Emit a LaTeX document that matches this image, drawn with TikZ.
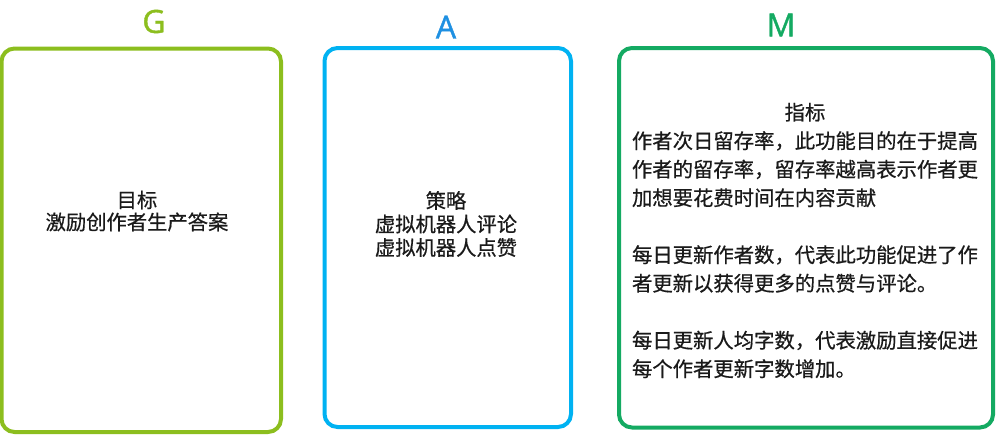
\documentclass[tikz,border=0pt]{standalone}
\usepackage{fontspec}
\setmainfont{Open Sans}
\newfontfamily\letterfont[FakeBold=1.2]{Open Sans}
\newfontfamily\cjk[FakeBold=0.6]{Noto Sans CJK SC}
\definecolor{ggreen}{HTML}{8CBE1E}
\definecolor{ablue}{HTML}{00B2F2}
\definecolor{aletter}{HTML}{1E90E2}
\definecolor{mgreen}{HTML}{14AA62}
\definecolor{txt}{HTML}{1A1A1A}
\begin{document}
\begin{tikzpicture}[x=1pt,y=-1pt,
  box/.style={draw, line width=4pt, rounded corners=13pt, inner sep=0pt, fill=white},
  letter/.style={font=\letterfont\fontsize{32}{32}\selectfont, inner sep=0pt},
  body/.style={text=txt, inner sep=0pt, font=\cjk\fontsize{20.3}{22}\selectfont, align=center}
]
\useasboundingbox[fill=white] (0,0) rectangle (998,437);
% boxes
\node[box, draw=ggreen, minimum width=279.5pt, minimum height=383.5pt] (gbox) at (141.25,240.25) {};
\node[box, draw=ablue, minimum width=246.5pt, minimum height=379pt] (abox) at (447.75,237.5) {};
\node[box, draw=mgreen, minimum width=374pt, minimum height=379.5pt] (mbox) at (806,237.75) {};
% letters
\node[letter, text=ggreen] (gl) at (154,21.5) {G};
\node[letter, text=aletter] (al) at (446,27) {A};
\node[letter, text=mgreen] (ml) at (781,25) {M};
% texts
\node[body] (gtext) at (137,211) {目标\\激励创作者生产答案};
\node[body, font=\cjk\fontsize{20.3}{23.5}\selectfont] (atext) at (446,224) {策略\\虚拟机器人评论\\虚拟机器人点赞};
\node[body, font=\cjk\fontsize{20.35}{28.5}\selectfont, text width=346pt, align=left] (mtext) at (805,240.5) {%
\makebox[\linewidth][c]{指标}\\
作者次日留存率，此功能目的在于提高\\
作者的留存率，留存率越高表示作者更\\
加想要花费时间在内容贡献\\[28.5pt]
每日更新作者数，代表此功能促进了作\\
者更新以获得更多的点赞与评论。\\[28.5pt]
每日更新人均字数，代表激励直接促进\\
每个作者更新字数增加。};
\end{tikzpicture}
\end{document}
